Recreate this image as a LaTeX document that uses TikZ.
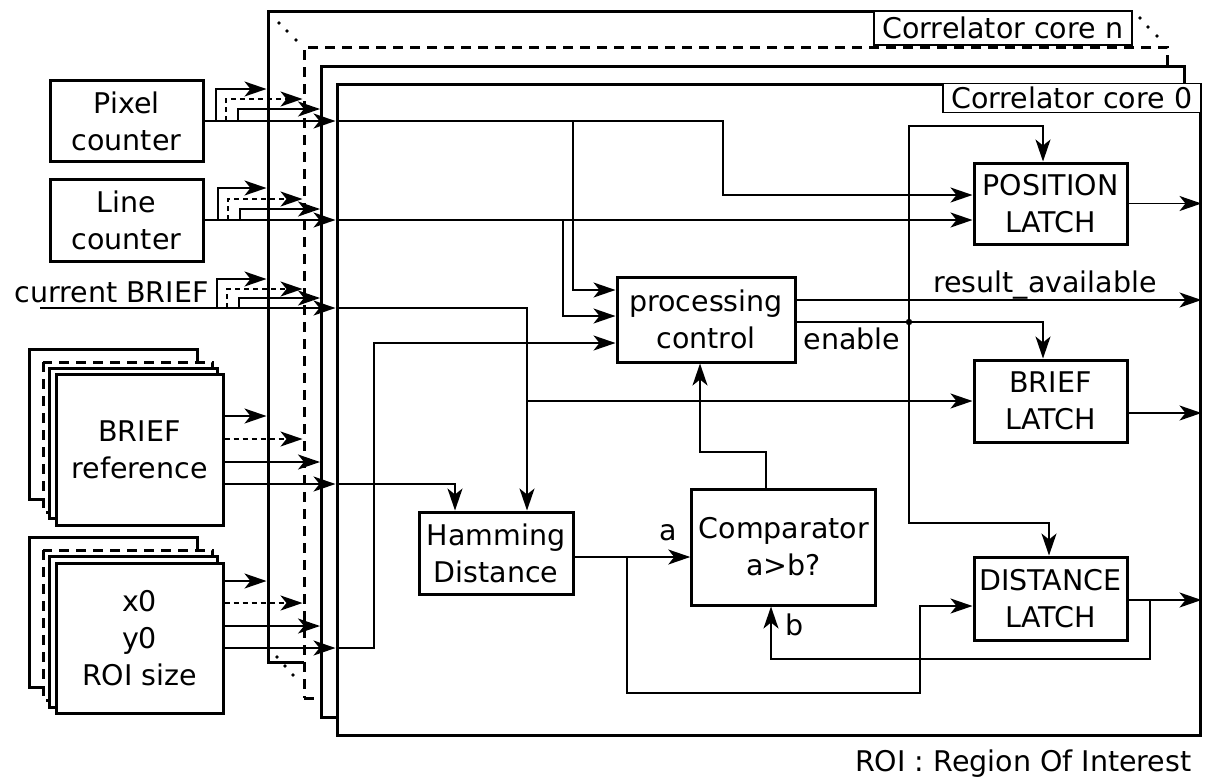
\documentclass[tikz,border=0pt]{standalone}
\usepackage{fontspec}
\setmainfont{DejaVu Sans}
\usetikzlibrary{arrows.meta,calc}
\begin{document}
\begin{tikzpicture}[x=1pt,y=-1pt,
  every node/.style={font=\fontsize{28.5}{37}\selectfont},
  box/.style={draw,line width=3pt,fill=white,inner sep=0pt,align=center},
  frame/.style={draw,line width=3pt,fill=white,minimum width=863pt,minimum height=651pt,inner sep=0pt},
  lbl/.style={draw,line width=1.5pt,fill=white,inner sep=0pt,minimum width=258pt},
  stk/.style={line width=3pt,fill=white},
  dsh/.style={dash pattern=on 10pt off 7pt},
  conn/.style={line width=1.8pt},
  arr/.style={conn,-{Stealth[length=22pt,width=15pt,inset=6pt]}},
  darr/.style={arr,dash pattern=on 5pt off 4pt}
]
\useasboundingbox (0,0) rectangle (1205,780);

% ---- correlator core frames (back to front)
\node[frame] (fn) at (699.5,337) {};
\node[lbl,minimum height=34pt,anchor=north east] (ln) at (fn.north east) {Correlator core n};
\foreach \p in {(279,23),(287,31),(296,40),(1140,18),(1148,27),(1157,36),(277,657),(285,666),(293,675)}
  \fill \p circle (1.8);
\node[frame,dsh] (fd) at (735.5,372.5) {};
\node[frame] (f1) at (753,391.5) {};
\node[frame] (f0) at (768.5,409.5) {};
\node[lbl,minimum height=29pt,anchor=north east] (l0) at (f0.north east) {Correlator core 0};

% ---- input blocks
\node[box,minimum width=153pt,minimum height=81pt] (pix) at (126.5,121) {Pixel\\counter};
\node[box,minimum width=153pt,minimum height=82pt] (lin) at (126.5,220) {Line\\counter};
\node[anchor=base west] (cb) at (11,302) {current BRIEF};
\coordinate (cbin) at (40,308);

% BRIEF reference stack
\draw[stk] (29,349) rectangle (197,499);
\draw[stk,dsh] (43,362) rectangle (212,512);
\draw[stk] (49,368) rectangle (217,518);
\node[box,minimum width=167pt,minimum height=151pt] (bref) at (139.5,449.5) {BRIEF\\reference};

% ROI stack
\draw[stk] (29,537) rectangle (197,687);
\draw[stk,dsh] (43,550) rectangle (212,700);
\draw[stk] (49,556) rectangle (217,707);
\node[box,minimum width=167pt,minimum height=150pt] (roi) at (139.5,638) {x0\\y0\\ROI size};

% ---- blocks inside core 0
\node[box,minimum width=178pt,minimum height=85pt] (pc) at (706,319.5) {processing\\control};
\node[box,minimum width=154pt,minimum height=82pt] (ham) at (496,553) {Hamming\\Distance};
\node[box,minimum width=184pt,minimum height=116pt] (comp) at (783.75,547) {Comparator\\a>b?};
\node[box,minimum width=153pt,minimum height=81pt] (pos) at (1050.5,203.5) {POSITION\\LATCH};
\node[box,minimum width=153pt,minimum height=82pt] (bl) at (1050.5,401) {BRIEF\\LATCH};
\node[box,minimum width=153pt,minimum height=83pt] (dl) at (1050.5,598.5) {DISTANCE\\LATCH};

% ---- inputs into the cores
\draw[arr] (pix.east) -- (f0.west |- pix.east);
\draw[arr] (216,121) |- (fn.west |- 0,89);
\draw[darr] (226,121) |- (fd.west |- 0,99);
\draw[arr] (238,121) |- (f1.west |- 0,109);

\draw[arr] (lin.east) -- (f0.west |- lin.east);
\draw[arr] (218,220) |- (fn.west |- 0,188);
\draw[darr] (228,220) |- (fd.west |- 0,199);
\draw[arr] (240,220) |- (f1.west |- 0,209);

\draw[arr] (cbin) -- (f0.west |- cbin);
\draw[arr] (217,308) |- (fn.west |- 0,279);
\draw[darr] (227,308) |- (fd.west |- 0,289);
\draw[arr] (239,308) |- (f1.west |- 0,298);

\draw[arr] (bref.east |- 0,416) -- (fn.west |- 0,416);
\draw[darr] (bref.east |- 0,439) -- (fd.west |- 0,439);
\draw[arr] (bref.east |- 0,462) -- (f1.west |- 0,462);
\draw[arr] (bref.east |- 0,484) -- (f0.west |- 0,484);

\draw[arr] (roi.east |- 0,581) -- (fn.west |- 0,581);
\draw[darr] (roi.east |- 0,603) -- (fd.west |- 0,603);
\draw[arr] (roi.east |- 0,626) -- (f1.west |- 0,626);
\draw[arr] (roi.east |- 0,648) -- (f0.west |- 0,648);

% ---- connections inside core 0
\draw[arr] (f0.west |- pix.east) -| (723,195) -- (pos.west |- 0,195);
\draw[arr] (573,121) |- (pc.west |- 0,290);
\draw[arr] (f0.west |- lin.east) -- (pos.west |- lin.east);
\draw[arr] (563,220) |- (pc.west |- 0,316);
\draw[arr] (f0.west |- cbin) -| (527,0 |- ham.north);
\draw[arr] (527,0 |- bl.west) -- (bl.west);
\draw[arr] (f0.west |- 0,484) -| (455,0 |- ham.north);
\draw[arr] (f0.west |- 0,648) -| (374,343) -- (pc.west |- 0,343);

\draw[arr] (pc.east |- 0,300) -- (f0.east |- 0,300);
\draw[conn] (pc.east |- 0,322) -- (909,322);
\draw[arr] (909,322) -| (1043,0 |- bl.north);
\draw[arr] (909,322) |- (1043,126) -- (1043,0 |- pos.north);
\draw[arr] (909,322) |- (1049,523) -- (1049,0 |- dl.north);
\fill (909,322) circle (3.2);

\draw[arr] (ham.east |- 0,557) -- (comp.west |- 0,557);
\draw[arr] (627,557) |- (920,693) |- (dl.west |- 0,606);
\draw[arr] (766,0 |- comp.north) |- (700,452) -- (700,0 |- pc.south);
\draw[arr] (dl.east |- 0,600) -- (f0.east |- 0,600);
\draw[arr] (1150,600) |- (771,659) -- (771,0 |- comp.south);

\draw[arr] (pos.east) -- (f0.east |- pos.east);
\draw[arr] (bl.east |- 0,413) -- (f0.east |- 0,413);

% ---- labels
\node[anchor=base] (ra) at (1045,292) {result\_available};
\node[anchor=base] (en) at (852,349) {enable};
\node[anchor=base] (la) at (668,540) {a};
\node[anchor=base] (lb) at (795,635) {b};
\node[anchor=base east] (note) at (1195,771) {ROI : Region Of Interest};
\end{tikzpicture}
\end{document}
